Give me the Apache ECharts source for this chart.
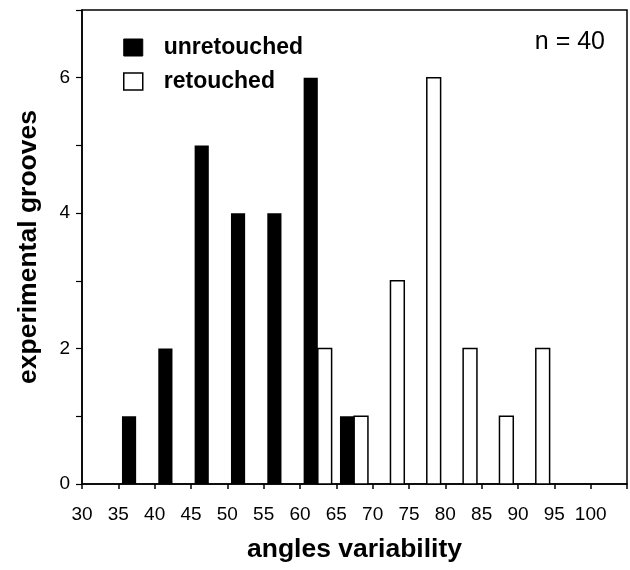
<!DOCTYPE html>
<html>
<head>
<meta charset="utf-8">
<script src="https://cdn.jsdelivr.net/npm/echarts@6/dist/echarts.min.js"></script>
<style>
html,body{margin:0;padding:0;background:#fff;}
#chart{width:630px;height:570px;}
</style>
</head>
<body>
<div id="chart"></div>
<script>
// ---- data ----
const binCenters = [37.5, 42.5, 47.5, 52.5, 57.5, 62.5, 67.5, 72.5, 77.5, 82.5, 87.5, 92.5];
const unretouched = [1, 2, 5, 4, 4, 6, 1, 0, 0, 0, 0, 0];
const retouched   = [0, 0, 0, 0, 0, 2, 1, 3, 6, 2, 1, 2];
const xTicks = [30, 35, 40, 45, 50, 55, 60, 65, 70, 75, 80, 85, 90, 95, 100];
const yTickLabels = [0, 2, 4, 6];
const seriesNames = ['unretouched', 'retouched'];
const sampleNote = 'n = 40';

const FONT = '"Liberation Sans", Arial, Helvetica, sans-serif';

function pairs(vals) { return binCenters.map((c, i) => [c, vals[i]]); }

function makeRender(off0, off1) {
  return function (params, api) {
    const x = api.value(0), y = api.value(1);
    if (!y) return null;
    const p0 = api.coord([x + off0, y]);
    const p1 = api.coord([x + off1, 0]);
    return {
      type: 'rect',
      shape: { x: p0[0], y: p0[1], width: p1[0] - p0[0], height: p1[1] - p0[1] },
      style: api.style()
    };
  };
}

const chart = echarts.init(document.getElementById('chart'), null, { renderer: 'canvas' });
chart.setOption({
  animation: false,
  backgroundColor: '#fff',
  textStyle: { fontFamily: FONT, color: '#000' },
  title: {
    text: sampleNote, right: 25, top: 30, padding: 0,
    textStyle: { fontFamily: FONT, fontSize: 25, fontWeight: 'normal', color: '#000' }
  },
  legend: {
    orient: 'vertical', left: 123, top: 36, padding: 0, itemWidth: 19, itemHeight: 17, itemGap: 11,
    selectedMode: false,
    data: [
      { name: seriesNames[0], icon: 'rect', itemStyle: { color: '#000', borderColor: '#000', borderWidth: 1 } },
      { name: seriesNames[1], icon: 'rect', itemStyle: { color: '#fff', borderColor: '#000', borderWidth: 1.5 } }
    ],
    textStyle: { fontFamily: FONT, fontSize: 23, fontWeight: 'bold', color: '#000', lineHeight: 17, padding: [0, 0, 0, 16] }
  },
  grid: { left: 82, right: 2, top: 10, bottom: 86, show: true, borderColor: '#000', borderWidth: 1.5, backgroundColor: 'transparent' },
  xAxis: {
    type: 'value', min: 30, max: 105, interval: 5,
    name: 'angles variability', nameLocation: 'middle', nameGap: 52,
    nameTextStyle: { fontFamily: FONT, fontSize: 26.5, fontWeight: 'bold', color: '#000' },
    axisLine: { show: true, onZero: false, lineStyle: { color: '#000', width: 1.5 } },
    axisTick: { show: true, inside: false, length: 5, lineStyle: { color: '#000', width: 1.5 } },
    axisLabel: {
      margin: 21, fontSize: 19, color: '#000', fontFamily: FONT,
      formatter: v => (xTicks.indexOf(v) >= 0 ? String(v) : '')
    },
    splitLine: { show: false }
  },
  yAxis: {
    type: 'value', min: 0, max: 7, interval: 1,
    name: 'experimental grooves', nameLocation: 'middle', nameGap: 40,
    nameTextStyle: { fontFamily: FONT, fontSize: 26.5, fontWeight: 'bold', color: '#000' },
    axisLine: { show: true, lineStyle: { color: '#000', width: 1.5 } },
    axisTick: { show: true, inside: false, length: 6, lineStyle: { color: '#000', width: 1.2 } },
    axisLabel: {
      margin: 12, fontSize: 19, color: '#000', fontFamily: FONT,
      formatter: v => (yTickLabels.indexOf(v) >= 0 ? String(v) : '')
    },
    splitLine: { show: false }
  },
  series: [
    {
      name: seriesNames[0], type: 'custom', data: pairs(unretouched),
      renderItem: makeRender(-2, -0.05),
      itemStyle: { color: '#000', borderColor: '#000', borderWidth: 0 },
      encode: { x: 0, y: 1 }, z: 3
    },
    {
      name: seriesNames[1], type: 'custom', data: pairs(retouched),
      renderItem: makeRender(-0.05, 1.85),
      itemStyle: { color: '#fff', borderColor: '#000', borderWidth: 1.5 },
      encode: { x: 0, y: 1 }, z: 2
    }
  ]
});
</script>
</body>
</html>
